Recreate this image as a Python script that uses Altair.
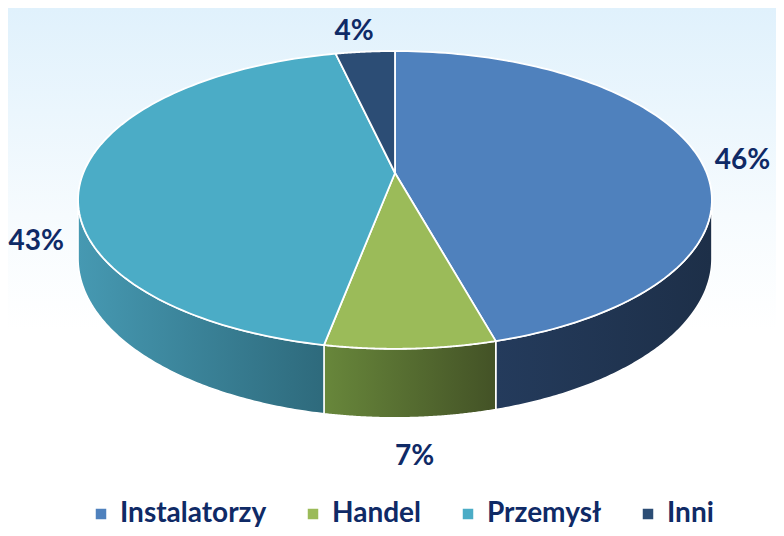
import altair as alt
import pandas as pd

# ---- data ----
categories = ["Instalatorzy", "Handel", "Przemysł", "Inni"]
values = [45.7, 7.3, 43.4, 3.6]

# ---- styles ----
top_colors = ["#4F81BD", "#9BBB59", "#4BACC6", "#2C4D75"]
wall_light = ["#243B5C", "#68873B", "#4699B2", "#22395A"]
wall_dark = ["#1D2F48", "#435226", "#2E6A7C", "#1B2E48"]
TEXT = "#0F2A66"

# ---- layout (pixels of the chart area) ----
W, H = 768, 520
CX, CY = 387, 165          # apex of the pie
RX, RY = 311.7, 144        # radii of the top face
K = 0.181                  # perspective factor
DEPTH = 56.5               # thickness of the pie
N = 120

df = pd.DataFrame({"cat": categories, "val": values})

xs = alt.Scale(domain=[0, W], nice=False, zero=False)
ys = alt.Scale(domain=[0, H], nice=False, zero=False, reverse=True)

base = (
    alt.Chart(df)
    .transform_window(cum="sum(val)", frame=[None, 0])
    .transform_joinaggregate(total="sum(val)")
    .transform_calculate(
        a0="2*PI*(datum.cum - datum.val)/datum.total",
        a1="2*PI*datum.cum/datum.total",
    )
)

# background gradient
bg = alt.Chart(pd.DataFrame({"z": [0]})).mark_rect(
    fill=alt.Gradient(
        gradient="linear",
        stops=[alt.GradientStop(color="#E0F1FC", offset=0),
               alt.GradientStop(color="#F6FBFE", offset=0.4),
               alt.GradientStop(color="#FFFFFF", offset=0.62),
               alt.GradientStop(color="#FFFFFF", offset=1)],
        x1=0, x2=0, y1=0, y2=1,
    ),
    strokeWidth=0,
).encode(x=alt.value(0), x2=alt.value(W), y=alt.value(0), y2=alt.value(H))

LO = f"acos(-{K})"
HI = f"(2*PI - acos(-{K}))"

walls_base = (
    base.transform_calculate(
        s=f"max(datum.a0, {LO})",
        e=f"min(datum.a1, {HI})",
    )
    .transform_filter("datum.s < datum.e")
    .transform_calculate(k=f"sequence(0, {2 * N + 2})")
    .transform_flatten(["k"])
    .transform_calculate(
        z=f"datum.k <= {N} ? 0 : 1",
        t=f"datum.k <= {N} ? datum.k/{N} : ({2 * N + 1} - datum.k)/{N}",
        ang="datum.s + datum.t*(datum.e - datum.s)",
        d=f"1 + {K}*cos(datum.ang)",
        px=f"{CX} + {RX}*sin(datum.ang)/datum.d",
        py=f"{CY} - {RY}*cos(datum.ang)/datum.d + datum.z*{DEPTH}/datum.d",
    )
)

wall_layers = []
for cat, c1, c2 in zip(categories, wall_light, wall_dark):
    wall_layers.append(
        walls_base.transform_filter(alt.datum.cat == cat)
        .mark_line(
            filled=True,
            interpolate="linear-closed",
            fill=alt.Gradient(
                gradient="linear",
                stops=[alt.GradientStop(color=c1, offset=0),
                       alt.GradientStop(color=c2, offset=1)],
                x1=0, x2=1, y1=0, y2=0,
            ),
            stroke="white",
            strokeWidth=1.5,
            strokeJoin="round",
        )
        .encode(
            x=alt.X("px:Q", scale=xs, axis=None),
            y=alt.Y("py:Q", scale=ys, axis=None),
            order=alt.Order("k:Q"),
            detail="cat:N",
        )
    )

top = (
    base.transform_calculate(k=f"sequence(0, {N + 2})")
    .transform_flatten(["k"])
    .transform_calculate(
        t=f"datum.k == 0 ? 0 : (datum.k - 1)/{N}",
        ang="datum.a0 + datum.t*(datum.a1 - datum.a0)",
        d=f"1 + {K}*cos(datum.ang)",
        px=f"datum.k == 0 ? {CX} : {CX} + {RX}*sin(datum.ang)/datum.d",
        py=f"datum.k == 0 ? {CY} : {CY} - {RY}*cos(datum.ang)/datum.d",
    )
    .mark_line(filled=True, interpolate="linear-closed", stroke="white",
               strokeWidth=1.8, strokeJoin="round")
    .encode(
        x=alt.X("px:Q", scale=xs, axis=None),
        y=alt.Y("py:Q", scale=ys, axis=None),
        order=alt.Order("k:Q"),
        detail="cat:N",
        color=alt.Color(
            "cat:N",
            scale=alt.Scale(domain=categories, range=top_colors),
            sort=categories,
            legend=alt.Legend(
                orient="none", legendX=79, legendY=492, direction="horizontal",
                title=None, symbolType="square", symbolSize=110,
                symbolStrokeWidth=0, labelFont="Lato", labelFontWeight="bold",
                labelFontSize=28, labelColor=TEXT, labelOffset=5,
                columnPadding=32, labelLimit=0,
            ),
        ),
    )
)

labels = (
    base.transform_calculate(
        mid="(datum.a0 + datum.a1)/2",
        u="sin(datum.mid)",
        v="cos(datum.mid)",
        d=f"1 + {K}*cos(datum.mid)",
        ex=f"{RX}*datum.u/datum.d",
        ey=f"-{RY}*datum.v/datum.d",
        nrm="sqrt(datum.ex*datum.ex + datum.ey*datum.ey)",
        lx=f"{CX} + datum.ex + 46*datum.ex/datum.nrm",
        ly=f"{CY} + datum.ey + 30*datum.ey/datum.nrm + 9"
           f" + (datum.v < 0 ? {DEPTH}/datum.d : 0)",
        lab="format(datum.val/datum.total, '.0%')",
    )
    .mark_text(font="Lato", fontWeight="bold", fontSize=28, color=TEXT,
               align="center", baseline="middle")
    .encode(
        x=alt.X("lx:Q", scale=xs, axis=None),
        y=alt.Y("ly:Q", scale=ys, axis=None),
        text="lab:N",
    )
)

chart = (
    alt.layer(bg, *wall_layers, top, labels)
    .properties(width=W, height=H, autosize="none", padding=0)
    .configure_view(strokeWidth=0)
)

chart.save("out.html", embed_options={"renderer": "svg", "actions": False})
